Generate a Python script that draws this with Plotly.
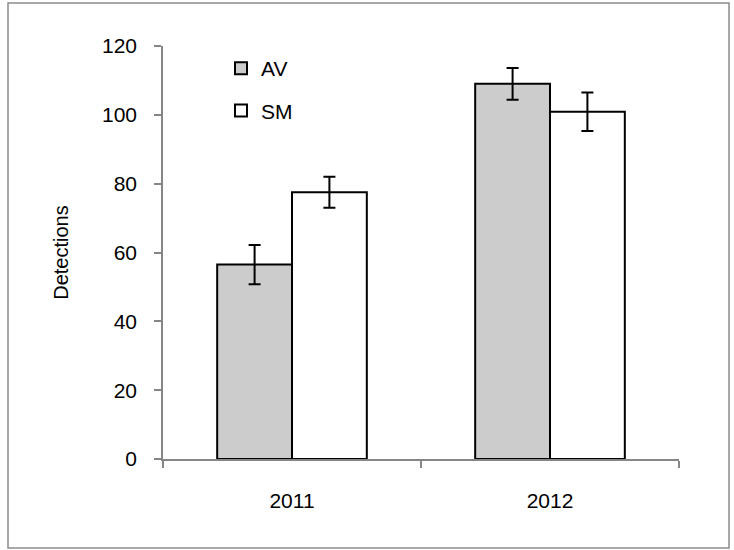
import plotly.graph_objects as go

years = ["2011", "2012"]
av_values = [56.5, 109.0]
av_errors = [5.7, 4.6]
sm_values = [77.5, 100.9]
sm_errors = [4.5, 5.6]
y_ticks = [0, 20, 40, 60, 80, 100, 120]

FONT = "Liberation Sans, Arial, sans-serif"

fig = go.Figure()
fig.add_trace(go.Bar(
    name="AV", x=years, y=av_values,
    marker=dict(color="#cccccc", line=dict(color="black", width=2)),
    error_y=dict(type="data", array=av_errors, color="black", thickness=2, width=6),
    legendgroup="a",
))
fig.add_trace(go.Bar(
    name="SM", x=years, y=sm_values,
    marker=dict(color="white", line=dict(color="black", width=2)),
    error_y=dict(type="data", array=sm_errors, color="black", thickness=2, width=6),
    legendgroup="b",
))

L, R, T, B = 163, 679, 46, 459
W, H = 734, 550
pw, ph = R - L, B - T

def px(x):
    return (x - L) / pw

def py(y):
    return (B - y) / ph

fig.update_layout(
    width=W, height=H,
    margin=dict(l=L, r=W - R, t=T, b=H - B, pad=0),
    paper_bgcolor="white", plot_bgcolor="white",
    font=dict(family=FONT, size=21, color="black"),
    barmode="group", bargap=0.42, bargroupgap=0,
    showlegend=True,
    legend=dict(x=px(221), y=py(48), xanchor="left", yanchor="top",
                bgcolor="rgba(0,0,0,0)", font=dict(size=21),
                traceorder="grouped", tracegroupgap=12, itemwidth=30),
    xaxis=dict(
        type="category", range=[-0.5, 1.5], tickson="boundaries",
        showline=True, linecolor="#868686", linewidth=1.5,
        ticks="outside", ticklen=7, tickcolor="#868686", tickwidth=1.5,
        showgrid=False, zeroline=False, ticklabelstandoff=22,
    ),
    yaxis=dict(
        range=[0, 120], tickvals=y_ticks,
        showline=True, linecolor="#868686", linewidth=1.5,
        ticks="outside", ticklen=7, tickcolor="#868686", tickwidth=1.5,
        showgrid=False, zeroline=False, ticklabelstandoff=13,
        title=dict(text="Detections", font=dict(size=20), standoff=28),
    ),
    shapes=[dict(type="rect", xref="paper", yref="paper",
                 x0=px(8), x1=px(729), y0=py(548), y1=py(3),
                 line=dict(color="#8c8c8c", width=1.5), fillcolor="rgba(0,0,0,0)",
                 layer="below")],
)

fig.write_html("out.html")
